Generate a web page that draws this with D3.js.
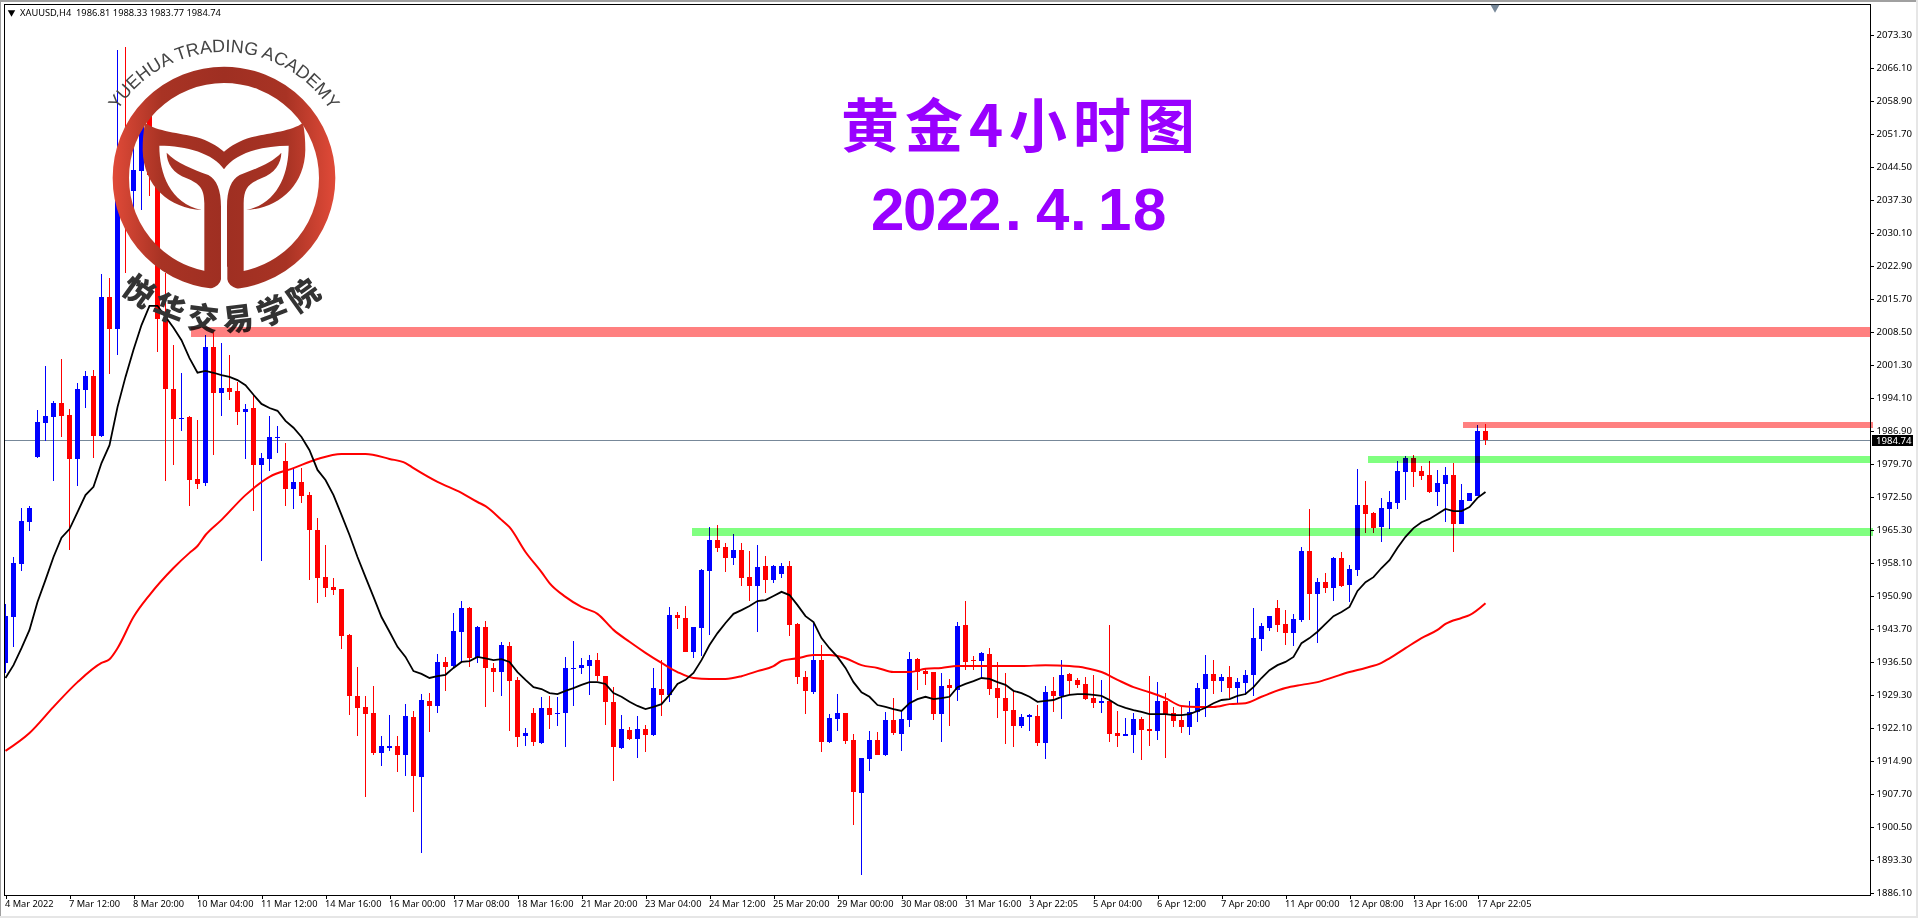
<!DOCTYPE html>
<html><head><meta charset="utf-8">
<style>
html,body{margin:0;padding:0;background:#fff;overflow:hidden}
svg{display:block}
.axis text{font-family:"Noto Sans",sans-serif;font-size:9.6px;fill:#000}
.axis.xa text{font-size:9.25px}
.axis line,.axis path{stroke:#000;shape-rendering:crispEdges}
</style>
<script src="https://cdn.jsdelivr.net/npm/d3@7/dist/d3.min.js"></script>
</head><body><svg id="c" width="1918" height="918"></svg>
<script>
const symbolName="XAUUSD,H4";
const quote=[1986.81,1988.33,1983.77,1984.74];
const lastPrice=1984.74;
const opens=[1936.2,1946.2,1957.8,1966.9,1981.1,1988.5,1989.9,1992.9,1990.3,1980.7,
1995.7,1998.8,1985.7,2016.0,2009.0,2051.8,2039.2,2043.5,2055.5,2042.7,
2011.2,1995.9,1989.4,1989.9,1976.3,1975.4,2005.1,1995.1,1996.2,1995.5,
1990.9,1991.8,1979.4,1980.7,1985.3,1980.2,1974.1,1975.7,1972.8,1965.2,
1954.9,1952.8,1952.3,1942.3,1929.0,1926.6,1925.3,1916.5,1917.6,1918.1,
1916.1,1924.4,1911.3,1927.9,1926.8,1936.4,1935.5,1943.0,1948.2,1937.2,
1944.0,1935.1,1934.2,1939.9,1932.5,1920.2,1925.3,1918.7,1926.4,1925.0,
1925.3,1934.9,1935.1,1935.5,1936.8,1933.3,1927.7,1917.6,1921.6,1919.6,
1921.8,1920.5,1930.5,1929.2,1946.6,1946.0,1938.6,1943.8,1956.3,1963.0,
1961.5,1959.1,1960.8,1954.9,1953.0,1957.3,1954.3,1955.6,1957.3,1944.7,
1933.1,1929.8,1936.8,1918.9,1924.0,1925.3,1919.4,1907.8,1915.2,1919.4,
1916.1,1923.7,1920.7,1923.7,1937.0,1934.4,1934.2,1925.0,1931.4,1930.3,
1944.5,1936.8,1936.6,1938.1,1930.7,1928.5,1925.9,1922.4,1924.4,1924.6,
1918.7,1930.1,1929.0,1933.8,1932.5,1931.6,1928.5,1927.4,1927.9,1920.9,
1920.2,1920.5,1924.0,1921.8,1921.3,1927.9,1925.3,1923.7,1922.2,1925.5,
1930.5,1933.8,1932.2,1933.1,1930.7,1931.8,1933.6,1941.4,1943.8,1948.2,
1944.7,1942.7,1945.6,1960.6,1951.2,1953.8,1952.5,1959.1,1953.2,1956.5,
1970.6,1968.9,1965.8,1969.8,1971.1,1977.8,1980.9,1978.1,1977.2,1973.5,
1975.2,1977.2,1966.5,1971.5,1972.6,1986.81];
const closes=[1946.4,1958.0,1967.2,1970.0,1988.8,1990.1,1992.9,1990.1,1980.7,1995.9,
1998.8,1985.7,2016.0,2009.0,2043.7,2037.2,2043.7,2055.7,2042.7,2011.2,
1995.9,1989.4,1989.7,1976.1,1975.2,2005.1,1995.1,1996.2,1995.3,1990.9,
1991.6,1979.4,1980.9,1985.5,1985.5,1974.1,1975.7,1972.6,1965.2,1954.7,
1952.5,1952.1,1942.1,1929.0,1926.4,1925.0,1916.5,1918.1,1918.1,1916.1,
1924.6,1911.5,1928.1,1926.8,1936.4,1935.3,1943.2,1948.2,1937.2,1944.0,
1935.1,1934.2,1940.1,1932.2,1920.0,1920.9,1918.9,1926.4,1924.8,1925.3,
1935.1,1935.1,1935.7,1936.8,1933.3,1927.7,1917.8,1921.8,1919.6,1921.8,
1920.5,1930.7,1929.2,1946.6,1946.0,1938.6,1944.0,1956.5,1963.0,1961.3,
1959.1,1960.8,1954.7,1953.0,1957.1,1954.3,1957.3,1957.3,1944.5,1933.1,
1930.1,1936.8,1918.9,1924.2,1925.3,1919.2,1908.0,1915.4,1919.4,1916.1,
1923.7,1920.9,1924.0,1937.0,1934.2,1933.8,1925.0,1931.2,1930.7,1944.2,
1936.4,1936.6,1938.4,1930.5,1928.5,1925.7,1922.4,1924.4,1924.8,1918.7,
1929.8,1929.0,1933.6,1932.2,1931.4,1928.3,1927.4,1927.9,1920.7,1920.2,
1920.7,1924.0,1921.6,1921.3,1927.9,1925.0,1923.5,1922.2,1925.5,1930.7,
1933.8,1932.2,1933.1,1930.7,1932.0,1933.6,1941.6,1944.2,1946.4,1944.5,
1942.7,1945.8,1960.6,1951.2,1953.8,1952.5,1959.1,1953.0,1956.7,1970.6,
1968.7,1965.6,1970.0,1971.3,1978.1,1980.9,1977.8,1977.0,1973.5,1975.4,
1977.2,1966.5,1971.7,1973.3,1986.8,1984.74];
const highs=[1949.0,1959.3,1970.0,1970.4,1991.4,2001.0,1993.3,2002.5,1991.6,1997.3,
1999.9,2000.1,2021.0,2020.2,2069.9,2070.6,2055.7,2057.9,2059.0,2050.3,
2021.3,2005.6,1999.5,1990.1,1989.2,2007.7,2008.8,2006.0,2003.4,1997.5,
1992.7,1994.7,1982.0,1990.1,1987.9,1984.2,1978.7,1978.7,1973.5,1967.8,
1961.9,1954.7,1952.3,1942.5,1935.3,1929.0,1931.2,1920.2,1924.8,1920.2,
1927.2,1925.7,1929.4,1929.6,1938.1,1937.5,1947.1,1949.7,1948.4,1944.2,
1945.3,1936.2,1940.8,1940.8,1933.1,1922.0,1926.4,1928.8,1929.0,1928.8,
1937.5,1941.0,1937.2,1937.9,1938.4,1933.3,1930.9,1924.8,1922.2,1924.6,
1922.6,1935.1,1936.8,1948.4,1947.3,1948.6,1944.0,1956.7,1965.8,1966.3,
1962.4,1964.3,1962.4,1960.6,1961.9,1959.5,1957.6,1958.0,1958.4,1944.9,
1934.4,1945.1,1940.1,1925.0,1929.4,1925.3,1920.7,1915.4,1921.3,1921.1,
1925.5,1928.5,1925.9,1938.6,1937.2,1935.1,1934.2,1934.0,1932.7,1945.1,
1949.7,1937.7,1938.6,1939.4,1936.4,1934.0,1930.1,1925.0,1925.0,1927.0,
1931.2,1933.1,1936.8,1934.0,1932.9,1933.1,1933.6,1932.5,1944.5,1925.7,
1924.2,1925.3,1924.4,1933.3,1932.0,1929.6,1926.6,1927.0,1927.9,1931.8,
1937.9,1936.8,1933.8,1935.5,1932.9,1934.6,1948.2,1944.9,1946.4,1949.9,
1947.7,1946.9,1961.5,1969.8,1954.7,1955.8,1959.3,1960.4,1957.6,1978.5,
1975.9,1969.1,1972.2,1973.7,1980.2,1981.3,1981.6,1979.2,1980.2,1978.3,
1978.9,1979.8,1975.2,1973.3,1988.1,1988.33];
const lows=[1934.0,1939.7,1956.3,1965.0,1980.9,1984.6,1975.9,1985.5,1960.8,1974.8,
1991.8,1980.9,1985.5,1999.2,2003.4,2021.3,2035.0,2035.0,2038.1,2004.0,
1975.9,1979.4,1986.8,1970.4,1974.1,1974.8,1981.6,1990.1,1993.6,1988.1,
1980.7,1969.3,1958.4,1978.1,1982.0,1970.4,1969.8,1971.1,1954.3,1949.3,
1950.6,1951.0,1939.2,1924.8,1920.2,1906.9,1916.1,1913.7,1917.0,1912.4,
1911.5,1903.7,1894.7,1921.1,1925.3,1930.1,1935.3,1936.4,1935.3,1936.2,
1926.6,1929.8,1929.0,1921.3,1917.8,1918.1,1918.1,1918.5,1921.8,1922.4,
1917.8,1926.8,1933.8,1929.2,1932.2,1922.6,1910.4,1917.4,1919.4,1915.4,
1916.8,1920.2,1924.6,1927.7,1943.6,1938.6,1937.2,1937.7,1942.3,1960.4,
1956.0,1957.6,1953.0,1949.7,1942.9,1951.4,1953.6,1954.7,1942.1,1931.6,
1925.0,1929.4,1916.8,1918.7,1921.3,1918.5,1900.8,1889.9,1912.6,1916.1,
1915.9,1920.5,1917.0,1922.2,1930.3,1931.4,1923.7,1918.9,1922.4,1927.9,
1934.6,1934.6,1933.1,1929.2,1924.2,1918.5,1917.8,1922.0,1921.3,1918.1,
1915.2,1925.5,1924.0,1929.2,1930.7,1928.1,1926.4,1925.3,1918.9,1917.8,
1920.2,1916.5,1915.0,1918.1,1919.4,1915.4,1922.2,1920.9,1920.5,1923.3,
1924.4,1929.4,1929.8,1928.5,1927.2,1929.2,1929.0,1938.8,1943.2,1942.9,
1940.1,1939.9,1945.1,1945.6,1940.5,1951.4,1949.7,1952.8,1949.5,1955.2,
1964.5,1964.5,1962.6,1965.4,1969.8,1971.7,1974.6,1976.1,1973.3,1970.4,
1966.9,1960.4,1966.5,1971.5,1972.6,1983.77];
const blackMA=[1932.9,1935.7,1939.4,1943.4,1949.5,1954.3,1959.3,1963.5,1965.4,1969.1,
1972.8,1974.6,1979.8,1983.7,1992.0,1998.6,2004.5,2009.9,2014.1,2014.1,
2011.7,2009.3,2006.6,2002.7,1999.5,1999.9,1999.5,1999.0,1998.6,1997.9,
1996.8,1994.7,1992.7,1991.8,1991.2,1989.0,1987.5,1985.5,1982.6,1978.3,
1976.1,1972.8,1968.5,1964.1,1959.3,1954.9,1950.6,1946.2,1943.0,1939.7,
1937.5,1934.4,1933.8,1932.9,1933.3,1933.6,1935.1,1936.4,1936.6,1937.5,
1937.2,1936.8,1937.0,1936.4,1934.2,1932.5,1930.9,1930.5,1929.6,1929.4,
1930.1,1930.7,1931.4,1932.0,1932.0,1931.6,1929.6,1928.8,1927.7,1926.8,
1926.1,1926.6,1927.2,1929.2,1931.6,1932.5,1934.0,1936.8,1940.1,1942.7,
1944.9,1946.9,1947.7,1948.6,1949.7,1949.9,1950.8,1951.7,1951.0,1948.8,
1946.4,1945.1,1941.6,1939.4,1937.5,1935.1,1932.0,1929.8,1928.8,1927.0,
1926.6,1926.1,1925.7,1927.4,1928.3,1928.8,1928.3,1928.5,1928.8,1930.9,
1931.6,1932.2,1932.9,1932.7,1932.0,1931.4,1930.1,1929.6,1928.8,1927.7,
1927.9,1928.1,1928.8,1929.2,1929.4,1929.4,1929.2,1929.0,1928.1,1927.0,
1926.4,1925.9,1925.5,1925.0,1925.0,1925.0,1924.8,1924.8,1925.0,1925.7,
1926.4,1927.4,1928.1,1928.3,1929.0,1929.4,1930.9,1932.9,1934.6,1935.7,
1936.4,1937.5,1940.5,1941.6,1943.0,1944.7,1946.4,1947.3,1948.4,1951.9,
1953.8,1954.9,1956.9,1958.6,1961.3,1963.7,1965.6,1966.9,1967.6,1968.7,
1969.8,1969.3,1969.3,1970.2,1972.2,1973.5];
const redIdx=[0,3,6,9,12,13,14,16,18,21,23,24,25,27,30,33,36,39,42,45,48,50,51,54,57,59,60,62,63,65,67,68,70,72,74,76,78,80,82,84,86,88,90,92,94,96,97,99,101,103,105,107,109,111,113,115,117,119,121,124,127,130,133,135,137,139,141,143,145,147,149,151,153,155,157,160,162,164,166,168,170,172,173,175,177,179,180,182,183,185];
const redMA=[1917.0,1920.9,1926.6,1932.0,1936.2,1937.0,1939.4,1946.2,1951.0,1956.9,1960.2,1961.7,1964.1,1967.4,1972.8,1976.8,1978.7,1980.7,1981.8,1981.8,1980.7,1979.8,1978.7,1975.7,1973.3,1971.3,1970.4,1967.4,1965.8,1960.4,1956.0,1953.6,1950.6,1948.4,1946.9,1943.4,1940.8,1938.4,1936.2,1934.2,1932.9,1932.7,1932.7,1933.3,1934.4,1935.5,1936.6,1937.2,1937.9,1937.9,1937.2,1935.7,1935.1,1934.2,1934.2,1934.9,1935.1,1935.5,1935.5,1935.5,1935.5,1935.7,1935.5,1935.1,1934.2,1932.5,1930.9,1929.8,1928.5,1926.8,1926.6,1926.6,1927.2,1927.4,1928.8,1930.7,1931.4,1932.0,1933.1,1934.2,1935.1,1936.2,1937.2,1939.4,1941.6,1943.4,1944.7,1946.0,1946.6,1949.2];
const yTicks=[2073.3,2066.1,2058.9,2051.7,2044.5,2037.3,2030.1,2022.9,2015.7,2008.5,2001.3,1994.1,1986.9,1979.7,1972.5,1965.3,1958.1,1950.9,1943.7,1936.5,1929.3,1922.1,1914.9,1907.7,1900.5,1893.3,1886.1];
const xTickLabels=["4 Mar 2022","7 Mar 12:00","8 Mar 20:00","10 Mar 04:00","11 Mar 12:00","14 Mar 16:00","16 Mar 00:00","17 Mar 08:00","18 Mar 16:00","21 Mar 20:00","23 Mar 04:00","24 Mar 12:00","25 Mar 20:00","29 Mar 00:00","30 Mar 08:00","31 Mar 16:00","3 Apr 22:05","5 Apr 04:00","6 Apr 12:00","7 Apr 20:00","11 Apr 00:00","12 Apr 08:00","13 Apr 16:00","17 Apr 22:05"];
const bandStartBar=[23.2,85.8,170.3,182.2];
const bandTop=[2009.5,1965.6,1981.3,1988.8];
const bandBottom=[2007.3,1963.9,1979.8,1987.4];
const bandColor=["#ff8080","#80ff80","#80ff80","#ff8080"];
const title1="黄金4小时图", title2="2022.4.18";
const logoTop="YUEHUA TRADING ACADEMY", logoBottom="悦华交易学院";

const up="#0000ff",down="#ff0000",purple="#9900ff";
const svg=d3.select("#c");
const L=4.5,R=1870.5,T=4.5,B=895.5;
const x=d3.scaleLinear().domain([0,185]).range([5.5,1485.5]);
const y=d3.scaleLinear().domain([2073.3,1886.1]).range([34.5,892.5]);
const bars=opens.map((o,i)=>({i,o,c:closes[i],h:highs[i],l:lows[i]}));

const defs=svg.append("defs");
defs.append("clipPath").attr("id","plot").append("rect").attr("x",L).attr("y",T).attr("width",R-L).attr("height",B-T);
const g0=defs.append("linearGradient").attr("id","lg").attr("gradientUnits","userSpaceOnUse").attr("x1",338).attr("x2",1005).attr("y1",0).attr("y2",0);
[[0,"#e04a38"],[.22,"#a83324"],[.5,"#9f2f22"],[.78,"#a83324"],[1,"#e04a38"]].forEach(s=>g0.append("stop").attr("offset",s[0]).attr("stop-color",s[1]));

// window edges
svg.append("rect").attr("width",1918).attr("height",2).attr("fill","#a0a0a0");
svg.append("rect").attr("width",1).attr("height",918).attr("fill","#a0a0a0");
svg.append("rect").attr("y",916).attr("width",1918).attr("height",2).attr("fill","#e6e6e6");
svg.append("rect").attr("x",1916).attr("width",2).attr("height",918).attr("fill","#e6e6e6");

const plot=svg.append("g").attr("clip-path","url(#plot)");
// price line
plot.append("line").attr("x1",L).attr("x2",R).attr("y1",Math.floor(y(lastPrice))+.5).attr("y2",Math.floor(y(lastPrice))+.5).attr("stroke","#778899").attr("shape-rendering","crispEdges");
// candles
const col=d=>d.c>=d.o?up:down;
plot.append("g").attr("shape-rendering","crispEdges").selectAll("rect").data(bars).join("rect")
 .attr("x",d=>x(d.i)-.5).attr("width",1).attr("y",d=>y(d.h)).attr("height",d=>y(d.l)-y(d.h)).attr("fill",col);
plot.append("g").attr("shape-rendering","crispEdges").selectAll("rect").data(bars).join("rect")
 .attr("x",d=>x(d.i)-2.5).attr("width",5).attr("y",d=>Math.round(y(Math.max(d.o,d.c)))).attr("height",d=>Math.max(1,Math.round(y(Math.min(d.o,d.c)))-Math.round(y(Math.max(d.o,d.c))))).attr("fill",col);
// moving averages
const lr=d3.line().x(d=>x(d[0])).y(d=>y(d[1]));
const lrs=d3.line().x(d=>x(d[0])).y(d=>y(d[1])).curve(d3.curveMonotoneX);
plot.append("path").attr("d",lrs(redIdx.map((v,k)=>[v,redMA[k]]))).attr("fill","none").attr("stroke","#ff0000").attr("stroke-width",2);
plot.append("path").attr("d",lr(blackMA.map((v,k)=>[k,v]))).attr("fill","none").attr("stroke","#000").attr("stroke-width",1.8);

// logo
const logo=svg.append("g");
const z=logo.append("g").attr("transform","scale(0.33333)");
z.append("circle").attr("cx",672).attr("cy",534).attr("r",309.5).attr("fill","none").attr("stroke","url(#lg)").attr("stroke-width",49);
const wing="M435,368 C470,395 540,398 590,412 C625,422 650,437 672,455 L672,508 C640,460 560,437 478,437 C478,520 510,610 605,630 C510,625 430,560 428,450 C428,420 430,395 435,368 Z";
const leaf="M500,458 C530,490 580,508 625,525 C650,538 663,570 663,620 L663,830 L613,830 L613,610 C612,565 600,552 560,535 C520,520 500,490 500,458 Z";
[wing,leaf].forEach(p=>{
 z.append("path").attr("d",p).attr("fill","url(#lg)");
 z.append("path").attr("d",p).attr("fill","url(#lg)").attr("transform","translate(1344,0) scale(-1,1)");
});
z.append("path").attr("d","M663,800 L663,838 Q660,858 630,867 L630,880 L714,880 L714,867 Q684,858 682,838 L682,800 Z").attr("fill","#fff");
defs.append("path").attr("id","arcTop").attr("d","M98,178 A126,126 0 0 1 350,178");
defs.append("path").attr("id","arcBot").attr("d","M71,178 A153,153 0 0 0 377,178");
logo.append("text").attr("font-family","Liberation Sans").attr("font-size",18).attr("fill","#444").attr("text-anchor","middle")
 .append("textPath").attr("href","#arcTop").attr("startOffset","50%").text(logoTop);
logo.append("text").attr("font-family","Noto Sans CJK SC").attr("font-weight",900).attr("font-size",31).attr("fill","#333").attr("text-anchor","middle").attr("letter-spacing",7)
 .append("textPath").attr("href","#arcBot").attr("startOffset","50%").text(logoBottom);

// bands: multiply over what lies beneath
svg.append("g").attr("shape-rendering","crispEdges").selectAll("rect").data(bandTop).join("rect")
 .attr("x",(d,i)=>x(bandStartBar[i])).attr("y",d=>y(d))
 .attr("width",(d,i)=>(i==0||i==2?R:R+2)-x(bandStartBar[i]))
 .attr("height",(d,i)=>y(bandBottom[i])-y(d)).attr("fill",(d,i)=>bandColor[i]).style("mix-blend-mode","multiply");

// frame + axes
svg.append("rect").attr("x",L).attr("y",T).attr("width",R-L).attr("height",B-T).attr("fill","none").attr("stroke","#000").attr("shape-rendering","crispEdges");
const yAxis=d3.axisRight(y).tickValues(yTicks).tickSize(3).tickPadding(3).tickFormat(d3.format(".2f"));
const ya=svg.append("g").attr("class","axis").attr("transform",`translate(${R},0)`).call(yAxis);
ya.select(".domain").remove();
const xTicks=xTickLabels.map((_,k)=>k*8);
const xAxis=d3.axisBottom(x).tickValues(xTicks).tickSize(3).tickPadding(2).tickFormat((d,k)=>xTickLabels[k]);
const xa=svg.append("g").attr("class","axis xa").attr("transform",`translate(0,${B})`).call(xAxis);
xa.select(".domain").remove();
xa.selectAll("text").attr("text-anchor","start").attr("dx",-1);

// last price box
const lastY=y(lastPrice);
svg.append("rect").attr("x",1872).attr("y",Math.round(lastY)-5.5).attr("width",41).attr("height",11).attr("fill","#000").attr("shape-rendering","crispEdges");
svg.append("text").attr("x",1876).attr("y",lastY+3.5).attr("font-family","Noto Sans").attr("font-size",9.6).attr("fill","#fff").text(lastPrice.toFixed(2));
// header
svg.append("path").attr("d",d3.symbol(d3.symbolTriangle,24)()).attr("transform","translate(11.5,12.5) rotate(180)").attr("fill","#000");
svg.append("text").attr("x",20).attr("y",16).attr("font-family","Noto Sans").attr("font-size",9.3).attr("fill","#000").attr("xml:space","preserve")
 .text(symbolName+"  "+quote.map(v=>v.toFixed(2)).join(" "));
// shift marker
svg.append("path").attr("d",d3.symbol(d3.symbolTriangle,36)()).attr("transform","translate(1495,7.5) rotate(180)").attr("fill","#778899");
// titles
svg.append("text").attr("x",1021).attr("y",147).attr("text-anchor","middle").attr("font-family","Noto Sans CJK SC").attr("font-weight",700).attr("font-size",58).attr("letter-spacing",6).attr("fill",purple).text(title1);
svg.append("text").attr("x","871 903 936 968 1005 1036 1070 1098 1133").attr("y",230).attr("font-family","Liberation Sans").attr("font-weight",700).attr("font-size",60).attr("fill",purple).text(title2);
</script></body></html>
